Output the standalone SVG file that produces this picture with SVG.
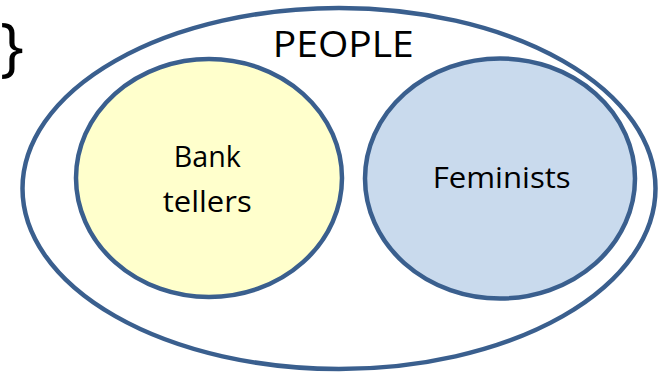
<svg xmlns="http://www.w3.org/2000/svg" width="658" height="374" viewBox="0 0 658 374">
  <style>
    .set { stroke: #3A5F8E; stroke-width: 4.5; }
    .label { font-family: "Open Sans", "Noto Sans", "Liberation Sans", sans-serif; fill: #000; text-anchor: middle; }
  </style>
  <rect width="658" height="374" fill="#FFFFFF"/>

  <!-- closing brace at top left -->
  <text x="12" y="69" class="label" font-size="64">}</text>

  <g id="people">
    <ellipse class="set" cx="339" cy="188.5" rx="316.5" ry="180.5" fill="#FFFFFF"/>
    <text class="label" x="343.3" y="56.7" font-size="36" textLength="141" lengthAdjust="spacingAndGlyphs">PEOPLE</text>
  </g>

  <g id="bank-tellers">
    <ellipse class="set" cx="209" cy="178" rx="133" ry="119" fill="#FFFFCC"/>
    <text class="label" x="207.3" y="166.7" font-size="29" textLength="67" lengthAdjust="spacingAndGlyphs">Bank</text>
    <text class="label" x="207.2" y="211.7" font-size="29" textLength="89" lengthAdjust="spacingAndGlyphs">tellers</text>
  </g>

  <g id="feminists">
    <ellipse class="set" cx="500" cy="178.5" rx="135" ry="120" fill="#C9DAED"/>
    <text class="label" x="501.7" y="188.3" font-size="29" textLength="138" lengthAdjust="spacingAndGlyphs">Feminists</text>
  </g>

  <g id="connectors"/>
</svg>
